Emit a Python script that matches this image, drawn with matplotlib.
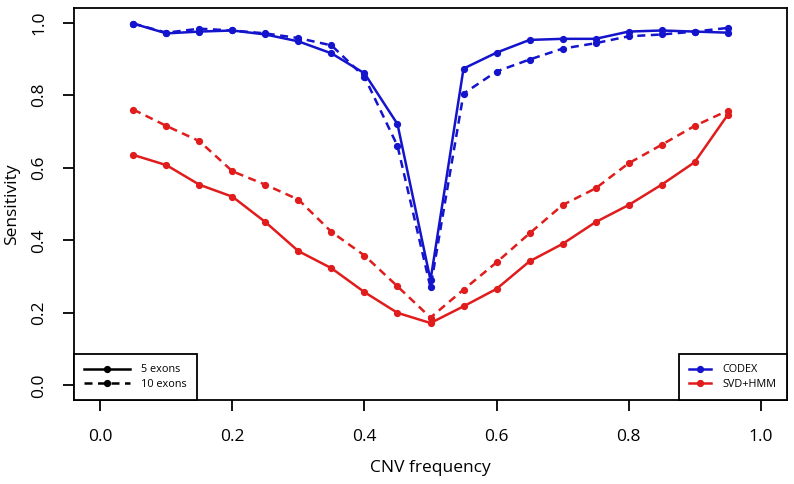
import numpy as np
import matplotlib.pyplot as plt
from matplotlib.lines import Line2D

freq = [0.05, 0.10, 0.15, 0.20, 0.25, 0.30, 0.35, 0.40, 0.45, 0.50,
        0.55, 0.60, 0.65, 0.70, 0.75, 0.80, 0.85, 0.90, 0.95]

codex_5 = [0.997, 0.970, 0.975, 0.978, 0.967, 0.948, 0.915, 0.860, 0.720, 0.290,
           0.873, 0.917, 0.952, 0.955, 0.955, 0.975, 0.978, 0.975, 0.972]
codex_10 = [0.997, 0.972, 0.983, 0.978, 0.970, 0.957, 0.937, 0.850, 0.660, 0.270,
            0.804, 0.865, 0.898, 0.928, 0.943, 0.962, 0.967, 0.975, 0.985]
svd_5 = [0.635, 0.607, 0.553, 0.520, 0.450, 0.370, 0.323, 0.257, 0.200, 0.172,
         0.218, 0.266, 0.342, 0.390, 0.450, 0.497, 0.553, 0.615, 0.745]
svd_10 = [0.760, 0.715, 0.673, 0.590, 0.553, 0.512, 0.423, 0.358, 0.273, 0.187,
          0.264, 0.339, 0.419, 0.497, 0.543, 0.612, 0.663, 0.715, 0.757]

ticks = [0.0, 0.2, 0.4, 0.6, 0.8, 1.0]

blue = '#1414cc'
red = '#e01c1c'
dash = (3.2, 2.2)

plt.rcParams['font.family'] = ['Open Sans', 'DejaVu Sans']

fig = plt.figure(figsize=(7.94, 4.84), dpi=100)
ax = fig.add_axes([0.0932, 0.1736, 0.8980, 0.8099])

lw = 1.8
ms = 4.2
ax.plot(freq, codex_5, color=blue, lw=lw, marker='o', ms=ms)
ax.plot(freq, codex_10, color=blue, lw=lw, marker='o', ms=ms, ls='--', dashes=dash)
ax.plot(freq, svd_5, color=red, lw=lw, marker='o', ms=ms)
ax.plot(freq, svd_10, color=red, lw=lw, marker='o', ms=ms, ls='--', dashes=dash)

ax.set_xlim(-0.04, 1.04)
ax.set_ylim(-0.04, 1.04)
ax.set_xticks(ticks)
ax.set_yticks(ticks)
ax.set_xticklabels([f"{t:.1f}" for t in ticks])
ax.set_yticklabels([f"{t:.1f}" for t in ticks], rotation=90, va='center')
ax.tick_params(direction='out', length=8, width=1.3, labelsize=12.5, pad=13)
ax.tick_params(axis='y', pad=11)
for s in ax.spines.values():
    s.set_linewidth(1.3)

ax.set_xlabel('CNV frequency', fontsize=12.5, labelpad=11)
ax.set_ylabel('Sensitivity', fontsize=12.5, labelpad=8)

h1 = [Line2D([], [], color='black', lw=lw, marker='o', ms=ms),
      Line2D([], [], color='black', lw=lw, marker='o', ms=ms, ls='--', dashes=dash)]
leg1 = ax.legend(h1, ['5 exons', '10 exons'], loc='lower left', fontsize=7.8,
                 handlelength=4.2, borderaxespad=0, fancybox=False,
                 edgecolor='black', framealpha=1, labelspacing=0.3,
                 borderpad=0.95, handletextpad=1.0)
leg1.get_frame().set_linewidth(1.3)
ax.add_artist(leg1)

h2 = [Line2D([], [], color=blue, lw=lw, marker='o', ms=ms),
      Line2D([], [], color=red, lw=lw, marker='o', ms=ms)]
leg2 = ax.legend(h2, ['CODEX', 'SVD+HMM'], loc='lower right', fontsize=7.8,
                 handlelength=2.0, borderaxespad=0, fancybox=False,
                 edgecolor='black', framealpha=1, labelspacing=0.3,
                 borderpad=0.95, handletextpad=1.1)
leg2.get_frame().set_linewidth(1.3)

fig.savefig('out.png', dpi=100)
